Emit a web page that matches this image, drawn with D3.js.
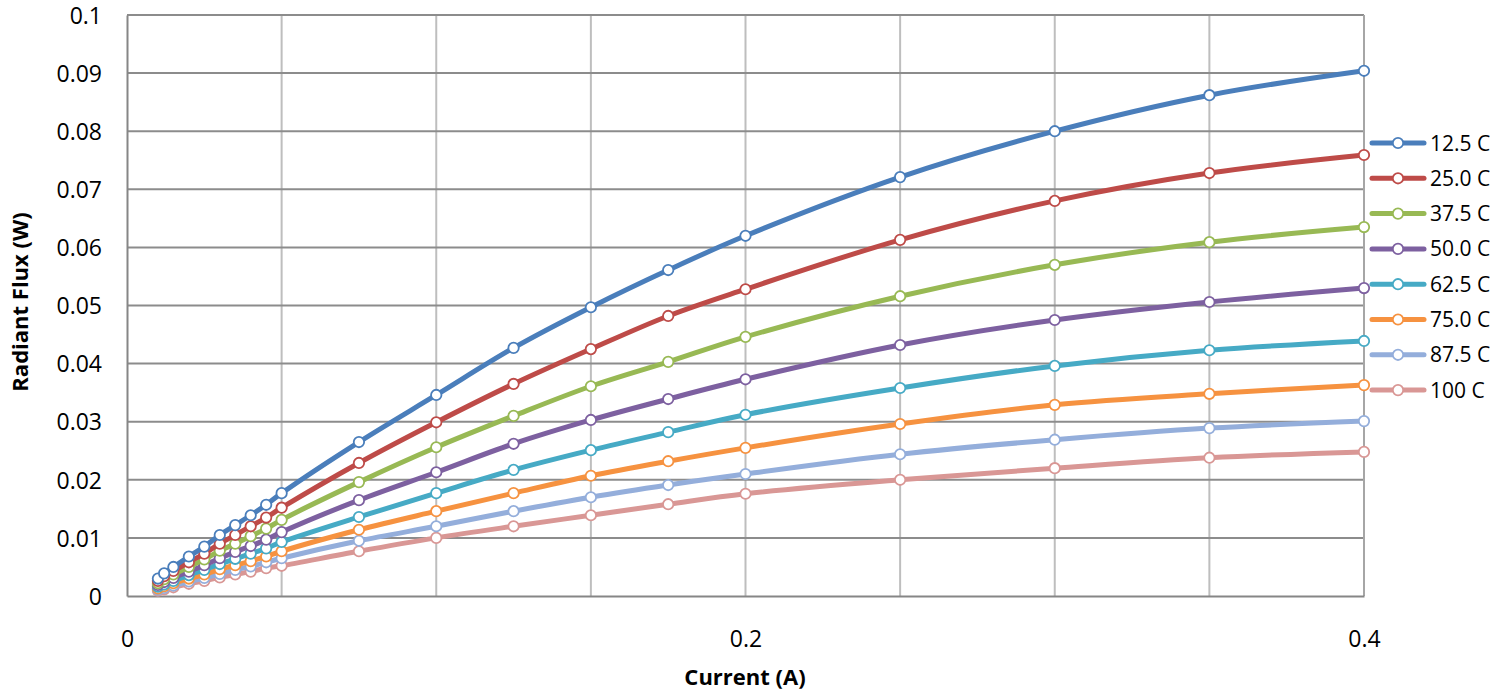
<!DOCTYPE html>
<html>
<head>
<meta charset="utf-8">
<script src="https://cdn.jsdelivr.net/npm/d3@7"></script>
<style>
  html, body { margin: 0; padding: 0; background: #fff; }
  svg { display: block; font-family: "Open Sans", "Liberation Sans", sans-serif; }
</style>
</head>
<body>
<svg id="chart" width="1510" height="690"></svg>
<script>
// ---- data ----
const currents = [0.01, 0.012, 0.015, 0.02, 0.025, 0.03, 0.035, 0.04, 0.045, 0.05,
                  0.075, 0.1, 0.125, 0.15, 0.175, 0.2, 0.25, 0.3, 0.35, 0.4];
const seriesNames = ["12.5 C", "25.0 C", "37.5 C", "50.0 C", "62.5 C", "75.0 C", "87.5 C", "100 C"];
const flux125 = [0.0030, 0.0039, 0.0050, 0.0068, 0.0085, 0.0105, 0.0122, 0.0139, 0.0157, 0.0177,
                 0.0265, 0.0346, 0.0427, 0.0497, 0.0561, 0.0620, 0.0721, 0.0800, 0.0862, 0.0904];
const flux250 = [0.0026, 0.0034, 0.0043, 0.0058, 0.0073, 0.0090, 0.0105, 0.0120, 0.0135, 0.0152,
                 0.0229, 0.0299, 0.0365, 0.0425, 0.0482, 0.0528, 0.0613, 0.0680, 0.0728, 0.0759];
const flux375 = [0.0022, 0.0029, 0.0037, 0.0050, 0.0063, 0.0078, 0.0090, 0.0103, 0.0116, 0.0131,
                 0.0196, 0.0256, 0.0310, 0.0361, 0.0403, 0.0446, 0.0516, 0.0570, 0.0609, 0.0635];
const flux500 = [0.0019, 0.0024, 0.0031, 0.0042, 0.0053, 0.0065, 0.0076, 0.0086, 0.0097, 0.0110,
                 0.0165, 0.0213, 0.0262, 0.0303, 0.0339, 0.0373, 0.0432, 0.0475, 0.0506, 0.0530];
const flux625 = [0.0016, 0.0020, 0.0026, 0.0036, 0.0045, 0.0055, 0.0064, 0.0073, 0.0082, 0.0093,
                 0.0136, 0.0177, 0.0217, 0.0251, 0.0282, 0.0312, 0.0358, 0.0396, 0.0423, 0.0439];
const flux750 = [0.0013, 0.0017, 0.0022, 0.0030, 0.0037, 0.0046, 0.0053, 0.0060, 0.0068, 0.0077,
                 0.0114, 0.0146, 0.0177, 0.0207, 0.0232, 0.0255, 0.0296, 0.0329, 0.0348, 0.0363];
const flux875 = [0.0011, 0.0014, 0.0018, 0.0025, 0.0031, 0.0038, 0.0045, 0.0051, 0.0058, 0.0065,
                 0.0095, 0.0120, 0.0146, 0.0170, 0.0191, 0.0210, 0.0244, 0.0269, 0.0289, 0.0301];
const flux1000 = [0.0009, 0.00115, 0.0015, 0.0021, 0.0026, 0.0032, 0.0037, 0.0042, 0.0048, 0.0052,
                  0.0077, 0.0100, 0.0120, 0.0139, 0.0158, 0.0176, 0.0200, 0.0220, 0.0238, 0.0248];
const seriesValues = [flux125, flux250, flux375, flux500, flux625, flux750, flux875, flux1000];
const colors = ["#4A7EBB", "#BE4B48", "#98B954", "#7D60A0", "#46AAC5", "#F69240", "#94AEDB", "#D99795"];
const xTickLabels = [0, 0.2, 0.4];
const xGridValues = [0.05, 0.1, 0.15, 0.2, 0.25, 0.3, 0.35, 0.4];
const yTickValues = [0, 0.01, 0.02, 0.03, 0.04, 0.05, 0.06, 0.07, 0.08, 0.09, 0.1];

// ---- layout ----
const svg = d3.select("#chart");
const plot = { left: 127, right: 1364, top: 15, bottom: 596 };
const x = d3.scaleLinear().domain([0, 0.4]).range([plot.left, plot.right]);
const y = d3.scaleLinear().domain([0, 0.1]).range([plot.bottom, plot.top]);

// vertical gridlines (light)
svg.append("g").selectAll("line").data(xGridValues).join("line")
  .attr("x1", d => x(d)).attr("x2", d => x(d))
  .attr("y1", plot.top).attr("y2", plot.bottom)
  .attr("stroke", "#BEBEBE").attr("stroke-width", 2);

// horizontal gridlines (darker)
svg.append("g").selectAll("line").data(yTickValues.slice(1)).join("line")
  .attr("x1", plot.left).attr("x2", plot.right)
  .attr("y1", d => y(d)).attr("y2", d => y(d))
  .attr("stroke", "#8C8C8C").attr("stroke-width", 2);

// right border
svg.append("line").attr("x1", plot.right).attr("x2", plot.right)
  .attr("y1", plot.top).attr("y2", plot.bottom)
  .attr("stroke", "#A6A6A6").attr("stroke-width", 2);

// axes
const yAxis = d3.axisLeft(y).tickValues(yTickValues).tickSize(0).tickPadding(25)
  .tickFormat(d => d3.format("~g")(+d.toFixed(3)));
const gy = svg.append("g").attr("transform", `translate(${plot.left},0)`).call(yAxis);
gy.select(".domain").attr("stroke", "#868686").attr("stroke-width", 2);
gy.selectAll("text").attr("font-size", 23).attr("fill", "#000").attr("dy", "0.36em")
  .attr("font-family", "Open Sans");

const xAxis = d3.axisBottom(x).tickValues(xTickLabels).tickSize(0)
  .tickFormat(d => d3.format("~g")(d));
const gx = svg.append("g").attr("transform", `translate(0,${plot.bottom})`).call(xAxis);
gx.select(".domain").attr("stroke", "#868686").attr("stroke-width", 2);
gx.selectAll("text").attr("font-size", 23).attr("fill", "#000").attr("font-family", "Open Sans")
  .attr("y", 51).attr("dy", 0);

// axis titles
svg.append("text").attr("x", 745).attr("y", 685).attr("text-anchor", "middle")
  .attr("font-size", 22).attr("font-weight", "bold").text("Current (A)");
svg.append("text").attr("transform", "translate(28,302) rotate(-90)").attr("text-anchor", "middle")
  .attr("font-size", 22).attr("font-weight", "bold").text("Radiant Flux (W)");

// series
const line = d3.line().x(d => x(d[0])).y(d => y(d[1])).curve(d3.curveCatmullRom.alpha(0.5));
const series = seriesNames.map((name, i) => ({
  name, color: colors[i],
  points: currents.map((c, j) => [c, seriesValues[i][j]])
}));

const gS = svg.append("g");
// draw in reverse so the first series is on top
series.slice().reverse().forEach(s => {
  gS.append("path").datum(s.points).attr("d", line)
    .attr("fill", "none").attr("stroke", s.color).attr("stroke-width", 5)
    .attr("stroke-linejoin", "round").attr("stroke-linecap", "round");
  gS.append("g").selectAll("circle").data(s.points).join("circle")
    .attr("cx", d => x(d[0])).attr("cy", d => y(d[1])).attr("r", 5.2)
    .attr("fill", "#fff").attr("stroke", s.color).attr("stroke-width", 1.8);
});

// legend
const legend = svg.append("g");
series.forEach((s, i) => {
  const ly = 143 + i * 35.3;
  legend.append("line").attr("x1", 1372).attr("x2", 1424).attr("y1", ly).attr("y2", ly)
    .attr("stroke", s.color).attr("stroke-width", 5).attr("stroke-linecap", "round");
  legend.append("circle").attr("cx", 1398).attr("cy", ly).attr("r", 5.2)
    .attr("fill", "#fff").attr("stroke", s.color).attr("stroke-width", 1.8);
  legend.append("text").attr("x", 1430).attr("y", ly).attr("dy", "0.36em")
    .attr("font-size", 21).attr("fill", "#000").text(s.name);
});
</script>
</body>
</html>
